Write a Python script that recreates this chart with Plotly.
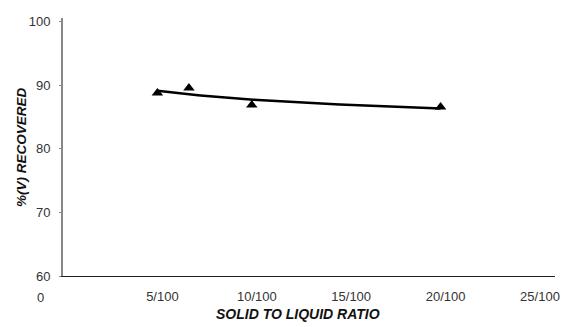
import numpy as np
import plotly.graph_objects as go

# data (x in units of /100)
ratio = [5, 6.67, 10, 20]
recovered = [88.8, 89.6, 86.9, 86.6]
x_tick_vals = [0, 5, 10, 15, 20, 25]
x_tick_text = ["0", "5/100", "10/100", "15/100", "20/100", "25/100"]
y_tick_vals = [60, 70, 80, 90, 100]

# logarithmic trend line fitted to the points
b, a = np.polyfit(np.log(ratio), recovered, 1)
xt = np.linspace(min(ratio), max(ratio), 60)
yt = a + b * np.log(xt)

fig = go.Figure()
fig.add_trace(go.Scatter(x=xt, y=yt, mode="lines",
                         line=dict(color="black", width=2.5), hoverinfo="skip"))
fig.add_trace(go.Scatter(x=ratio, y=recovered, mode="markers",
                         marker=dict(symbol="triangle-up", size=10, color="black")))

font_family = "Liberation Sans, Arial, sans-serif"
tick_color = "#333"
fig.update_layout(
    width=570, height=327,
    margin=dict(l=63, r=10, t=18, b=51),
    paper_bgcolor="white", plot_bgcolor="white",
    showlegend=False,
    font=dict(family=font_family, size=13, color=tick_color),
    xaxis=dict(range=[0, 26.06], tickvals=x_tick_vals[1:], ticktext=x_tick_text[1:],
               ticklabelshift=5, ticklabelstandoff=8, showgrid=False, zeroline=False,
               showline=True, linecolor="#222", linewidth=1.2, ticks="",
               tickfont=dict(size=13, color=tick_color)),
    yaxis=dict(range=[60, 100.6], tickvals=y_tick_vals, showgrid=False, zeroline=False,
               showline=True, linecolor="#888", linewidth=2, ticks="outside",
               ticklen=2, tickcolor="#888", tickwidth=1, ticklabelstandoff=6,
               tickfont=dict(size=13, color=tick_color)),
)
# leftmost "0" label sits left of the y axis
fig.add_annotation(x=x_tick_vals[0], y=0, xref="x", yref="paper", text=x_tick_text[0],
                   showarrow=False, xshift=-23, yshift=-21, yanchor="middle",
                   font=dict(size=13, color=tick_color, family=font_family))
# axis titles
fig.add_annotation(x=0.477, y=0, xref="paper", yref="paper",
                   text="<b><i>SOLID TO LIQUID RATIO</i></b>", showarrow=False,
                   yanchor="middle", yshift=-38,
                   font=dict(size=14, color="#111", family=font_family))
fig.add_annotation(x=0, y=0.5, xref="paper", yref="paper",
                   text="<b><i>%(V) RECOVERED</i></b>", showarrow=False, textangle=-90,
                   xanchor="center", xshift=-42,
                   font=dict(size=13.5, color="#111", family=font_family))

fig.write_html("out.html")
